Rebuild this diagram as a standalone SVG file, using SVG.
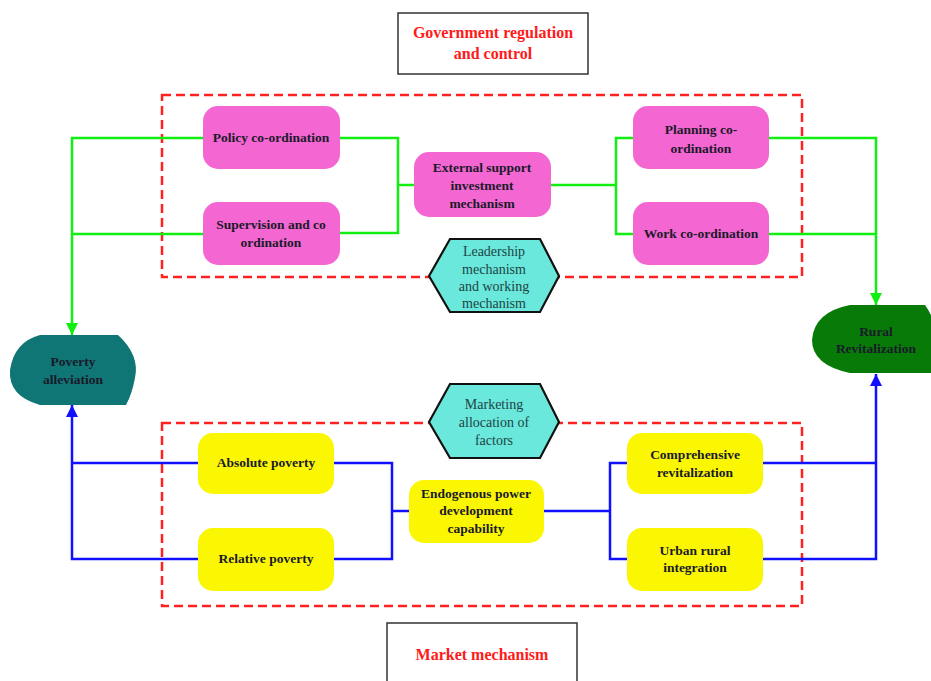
<svg xmlns="http://www.w3.org/2000/svg" width="931" height="681" viewBox="0 0 931 681">
<style>
.lbl{font-family:"Liberation Serif",serif;font-weight:bold;font-size:13.5px;fill:#1a1a2a;text-anchor:middle}
.hex{font-family:"Liberation Serif",serif;font-size:14px;fill:#1d4444;text-anchor:middle}
.red{font-family:"Liberation Serif",serif;font-weight:bold;font-size:16px;fill:#ff1a1a;text-anchor:middle}
.pink{fill:#f466d2}
.yel{fill:#fbf702}
.hx{fill:#6ae8dc;stroke:#111;stroke-width:2.2}
.dash{fill:none;stroke:#ff2020;stroke-width:2.5;stroke-dasharray:9 5}
.g{fill:none;stroke:#11ee11;stroke-width:2.5}
.b{fill:none;stroke:#1010ff;stroke-width:2.5}
</style>
<defs>
<marker id="ag" markerWidth="12" markerHeight="12" refX="12" refY="6" orient="auto" markerUnits="userSpaceOnUse" viewBox="0 0 12 12"><path d="M0,0 L12,6 L0,12 Z" fill="#11ee11"/></marker>
<marker id="ab" markerWidth="12" markerHeight="12" refX="12" refY="6" orient="auto" markerUnits="userSpaceOnUse" viewBox="0 0 12 12"><path d="M0,0 L12,6 L0,12 Z" fill="#1010ff"/></marker>
</defs>
<rect width="931" height="681" fill="#fff"/>
<g id="frames">
<rect class="dash" x="162" y="95" width="640" height="182"/>
<rect class="dash" x="162" y="423" width="640" height="183"/>
</g>
<g id="connectors">
<path class="g" d="M340 138 H398 V233 H340 M398 185 H414"/>
<path class="g" d="M203 138 H72 V335" marker-end="url(#ag)"/>
<path class="g" d="M203 234 H72"/>
<path class="g" d="M551 185 H616 M633 138 H616 V234 H633"/>
<path class="g" d="M769 138 H876 V305" marker-end="url(#ag)"/>
<path class="g" d="M769 234 H876"/>
<path class="b" d="M334 463 H392 V559 H334 M392 511 H409"/>
<path class="b" d="M198 463 H72"/>
<path class="b" d="M198 559 H72 V405" marker-end="url(#ab)"/>
<path class="b" d="M544 511 H610 M627 463 H610 V559 H627"/>
<path class="b" d="M763 463 H876"/>
<path class="b" d="M763 559 H876 V374" marker-end="url(#ab)"/>
</g>
<g id="gov">
<rect x="398" y="13" width="190" height="61" fill="#fff" stroke="#333" stroke-width="1.5"/>
<text class="red" x="493" y="38">Government regulation</text>
<text class="red" x="493" y="59">and control</text>
</g>
<g id="market">
<rect x="387" y="623" width="190" height="70" fill="#fff" stroke="#333" stroke-width="1.5"/>
<text class="red" x="482" y="660">Market mechanism</text>
</g>
<g id="policy">
<rect class="pink" x="203" y="106" width="137" height="63" rx="15"/>
<text class="lbl" x="271" y="142">Policy co-ordination</text>
</g>
<g id="supervision">
<rect class="pink" x="203" y="202" width="137" height="63" rx="15"/>
<text class="lbl" x="271" y="229">Supervision and co</text>
<text class="lbl" x="271" y="247">ordination</text>
</g>
<g id="external">
<rect class="pink" x="414" y="152" width="137" height="65" rx="15"/>
<text class="lbl" x="482" y="172">External support</text>
<text class="lbl" x="482" y="190">investment</text>
<text class="lbl" x="482" y="208">mechanism</text>
</g>
<g id="planning">
<rect class="pink" x="633" y="106" width="136" height="63" rx="15"/>
<text class="lbl" x="701" y="134">Planning co-</text>
<text class="lbl" x="701" y="153">ordination</text>
</g>
<g id="work">
<rect class="pink" x="633" y="202" width="136" height="63" rx="15"/>
<text class="lbl" x="701" y="238">Work co-ordination</text>
</g>
<g id="leadership">
<polygon class="hx" points="429,276 450,239 540,239 559,276 540,312 450,312"/>
<text class="hex" x="494" y="256">Leadership</text>
<text class="hex" x="494" y="274">mechanism</text>
<text class="hex" x="494" y="291">and working</text>
<text class="hex" x="494" y="308">mechanism</text>
</g>
<g id="marketing">
<polygon class="hx" points="429,422 450,384 540,384 559,422 540,458 450,458"/>
<text class="hex" x="494" y="409">Marketing</text>
<text class="hex" x="494" y="427">allocation of</text>
<text class="hex" x="494" y="445">factors</text>
</g>
<g id="poverty">
<path d="M40 335 L118 335 Q140 355 135 378 Q132 394 126 405 L40 405 Q8 396 10 370 Q14 342 40 335 Z" fill="#107575"/>
<text class="lbl" x="73" y="366">Poverty</text>
<text class="lbl" x="73" y="384">alleviation</text>
</g>
<g id="rural">
<path d="M850 305 L925 305 Q936 320 936 340 L931 373 L850 373 Q812 365 812 340 Q814 312 850 305 Z" fill="#087a08"/>
<text class="lbl" x="876" y="336">Rural</text>
<text class="lbl" x="876" y="353">Revitalization</text>
</g>
<g id="absolute">
<rect class="yel" x="198" y="433" width="136" height="61" rx="15"/>
<text class="lbl" x="266" y="467">Absolute poverty</text>
</g>
<g id="relative">
<rect class="yel" x="198" y="528" width="136" height="63" rx="15"/>
<text class="lbl" x="266" y="563">Relative poverty</text>
</g>
<g id="endogenous">
<rect class="yel" x="409" y="480" width="135" height="63" rx="15"/>
<text class="lbl" x="476" y="498">Endogenous power</text>
<text class="lbl" x="476" y="515">development</text>
<text class="lbl" x="476" y="533">capability</text>
</g>
<g id="comprehensive">
<rect class="yel" x="627" y="433" width="136" height="61" rx="15"/>
<text class="lbl" x="695" y="459">Comprehensive</text>
<text class="lbl" x="695" y="477">revitalization</text>
</g>
<g id="urban">
<rect class="yel" x="627" y="528" width="136" height="63" rx="15"/>
<text class="lbl" x="695" y="555">Urban rural</text>
<text class="lbl" x="695" y="572">integration</text>
</g>
</svg>
